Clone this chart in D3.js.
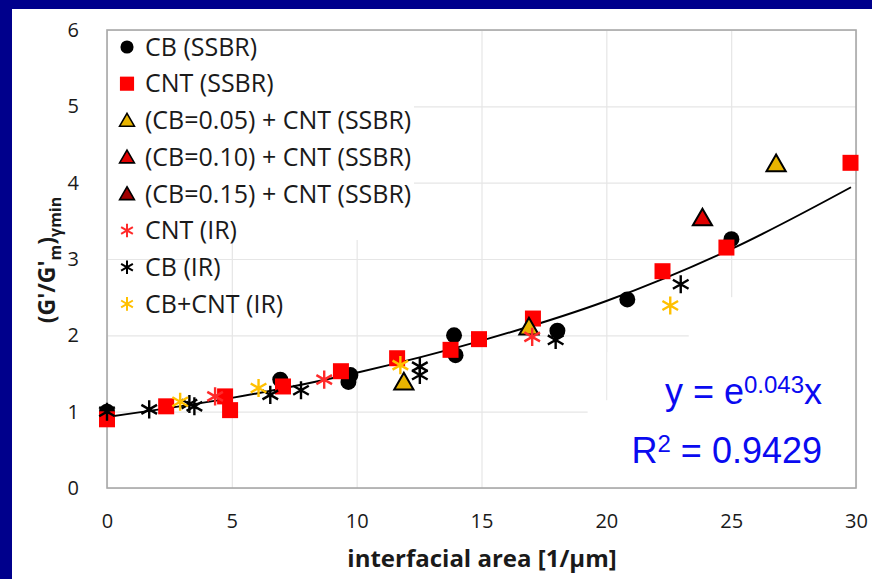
<!DOCTYPE html>
<html>
<head>
<meta charset="utf-8">
<script src="https://cdn.jsdelivr.net/npm/d3@7"></script>
<style>
  html, body { margin: 0; padding: 0; background: #00008c; }
  svg { display: block; }
</style>
</head>
<body>
<svg id="chart" width="872" height="579"></svg>
<script>
// ---- data ----
const xTicks = [0, 5, 10, 15, 20, 25, 30];
const yTicks = [0, 1, 2, 3, 4, 5, 6];

// [interfacial area, normalised modulus]
const cbSSBR   = [[0, 1.0], [6.94, 1.42], [9.75, 1.48], [9.67, 1.39], [13.9, 2.0], [13.96, 1.74], [18.04, 2.06], [20.84, 2.47], [25.01, 3.26]];
const cntSSBR  = [[0, 0.9], [2.37, 1.07], [4.73, 1.2], [4.93, 1.02], [7.05, 1.33], [9.37, 1.53], [11.62, 1.7], [13.76, 1.81], [14.9, 1.95], [17.06, 2.22], [22.25, 2.84], [24.81, 3.15], [29.78, 4.26]];
const cb05Cnt  = [[11.89, 1.39], [16.9, 2.11], [26.8, 4.25]];
const cb10Cnt  = [[23.85, 3.54]];
const cb15Cnt  = [];
const cntIR    = [[4.33, 1.2], [8.7, 1.42], [17.03, 1.98]];
const cbIR     = [[0, 1.0], [1.69, 1.03], [3.3, 1.1], [3.5, 1.07], [6.54, 1.22], [7.77, 1.28], [12.53, 1.59], [12.53, 1.48], [17.97, 1.94], [22.98, 2.67]];
const cbCntIR  = [[2.93, 1.13], [6.07, 1.31], [11.75, 1.61], [22.56, 2.39]];

// exponential trend line through the pooled data
const trendX = [0, 5, 10, 15, 20, 25, 29.8];
const trendY = [0.93, 1.18, 1.51, 1.93, 2.45, 3.13, 3.94];

const series = [
  { name: "CB (SSBR)",               data: cbSSBR,  shape: "circle",   fill: "#000000", stroke: "none" },
  { name: "CNT (SSBR)",              data: cntSSBR, shape: "square",   fill: "#ff0000", stroke: "none" },
  { name: "(CB=0.05) + CNT (SSBR)",  data: cb05Cnt, shape: "triangle", fill: "#e8b400", stroke: "#000000" },
  { name: "(CB=0.10) + CNT (SSBR)",  data: cb10Cnt, shape: "triangle", fill: "#e00000", stroke: "#000000" },
  { name: "(CB=0.15) + CNT (SSBR)",  data: cb15Cnt, shape: "triangle", fill: "#a00000", stroke: "#000000" },
  { name: "CNT (IR)",                data: cntIR,   shape: "star",     fill: "none",    stroke: "#ff2a2a" },
  { name: "CB (IR)",                 data: cbIR,    shape: "star",     fill: "none",    stroke: "#000000" },
  { name: "CB+CNT (IR)",             data: cbCntIR, shape: "star",     fill: "none",    stroke: "#ffc000" }
];

// ---- layout ----
const W = 872, H = 579;
const plot = { left: 107, right: 856, top: 30, bottom: 488 };

const svg = d3.select("#chart");
const FONT = "'Open Sans', 'Noto Sans', sans-serif";

// white panel inside the navy frame
svg.append("rect").attr("x", 12).attr("y", 9).attr("width", W - 12).attr("height", H - 9).attr("fill", "#ffffff");

const x = d3.scaleLinear().domain([0, 30]).range([plot.left, plot.right]);
const y = d3.scaleLinear().domain([0, 6]).range([plot.bottom, plot.top]);

// gridlines
const grid = svg.append("g").attr("class", "grid");
grid.append("g")
  .attr("transform", `translate(${plot.left},0)`)
  .call(d3.axisLeft(y).tickValues(yTicks).tickSize(-(plot.right - plot.left)).tickFormat(""))
  .call(g => g.select(".domain").remove())
  .call(g => g.selectAll("line").attr("stroke", "#e6e6e6").attr("stroke-width", 1.2));
grid.append("g")
  .attr("transform", `translate(0,${plot.bottom})`)
  .call(d3.axisBottom(x).tickValues(xTicks).tickSize(-(plot.bottom - plot.top)).tickFormat(""))
  .call(g => g.select(".domain").remove())
  .call(g => g.selectAll("line").attr("stroke", "#e6e6e6").attr("stroke-width", 1.2));

// white backing behind the fit equation (stepped)
const eqBack = [
  [19.25, 0, 1.15],
  [20.05, 0, 1.78],
  [23.3, 0, 2.5]
];
svg.append("g").selectAll("rect").data(eqBack).join("rect")
  .attr("x", d => x(d[0]))
  .attr("y", d => y(d[2]))
  .attr("width", d => x(30) - x(d[0]))
  .attr("height", d => y(d[1]) - y(d[2]))
  .attr("fill", "#ffffff");

// white backing behind the legend
svg.append("rect")
  .attr("x", plot.left + 1).attr("y", plot.top + 1)
  .attr("width", 306).attr("height", 209)
  .attr("fill", "#ffffff");

// plot frame
svg.append("rect")
  .attr("x", plot.left).attr("y", plot.top)
  .attr("width", plot.right - plot.left).attr("height", plot.bottom - plot.top)
  .attr("fill", "none").attr("stroke", "#a8a8a8").attr("stroke-width", 1.6);

// axes labels
svg.append("g")
  .attr("transform", `translate(${plot.left},0)`)
  .call(d3.axisLeft(y).tickValues(yTicks).tickSize(0).tickPadding(28).tickFormat(d3.format("d")))
  .call(g => g.select(".domain").remove())
  .call(g => g.selectAll("text").attr("font-family", FONT).attr("font-size", 20).attr("fill", "#1a1a1a"));

svg.append("g")
  .attr("transform", `translate(0,${plot.bottom})`)
  .call(d3.axisBottom(x).tickValues(xTicks).tickSize(0).tickPadding(26).tickFormat(d3.format("d")))
  .call(g => g.select(".domain").remove())
  .call(g => g.selectAll("text").attr("font-family", FONT).attr("font-size", 20).attr("fill", "#1a1a1a"));

// axis titles
svg.append("text")
  .attr("x", 482).attr("y", 567)
  .attr("text-anchor", "middle")
  .attr("font-family", FONT).attr("font-size", 24).attr("font-weight", "bold").attr("fill", "#1a1a1a")
  .text("interfacial area [1/\u03bcm]");

const yt = svg.append("text")
  .attr("transform", "translate(55,260) rotate(-90)")
  .attr("text-anchor", "middle")
  .attr("font-family", FONT).attr("font-size", 23).attr("font-weight", "bold").attr("fill", "#1a1a1a");
yt.append("tspan").text("(G'/G'");
yt.append("tspan").attr("font-size", 16).attr("dy", 6).text("m");
yt.append("tspan").attr("dy", -6).text(")");
yt.append("tspan").attr("font-size", 16).attr("dy", 6).text("\u03b3min");

// trend line
const trend = trendX.map((v, i) => [v, trendY[i]]);
svg.append("path")
  .datum(trend)
  .attr("fill", "none").attr("stroke", "#000000").attr("stroke-width", 1.9)
  .attr("d", d3.line().x(d => x(d[0])).y(d => y(d[1])).curve(d3.curveCatmullRom));

// markers
const symbolOf = { circle: d3.symbolCircle, square: d3.symbolSquare, triangle: d3.symbolTriangle, star: d3.symbolAsterisk };
const sizeOf = { circle: 200, square: 256, triangle: 160, star: 230 };

function styleMarker(sel, s) {
  if (s.shape === "star") {
    sel.attr("fill", "none").attr("stroke", s.stroke).attr("stroke-width", 2.4);
  } else {
    sel.attr("fill", s.fill).attr("stroke", s.stroke).attr("stroke-width", s.stroke === "none" ? 0 : 2);
  }
}

series.forEach(s => {
  const path = d3.symbol().type(symbolOf[s.shape]).size(sizeOf[s.shape])();
  const g = svg.append("g");
  g.selectAll("path").data(s.data).join("path")
    .attr("d", path)
    .attr("transform", d => `translate(${x(d[0])},${y(d[1]) + (s.shape === "triangle" ? 2 : 0)})`)
    .call(sel => styleMarker(sel, s));
});

// legend
const legend = svg.append("g").attr("transform", "translate(127,47)");
const rowH = 36.7;
series.forEach((s, i) => {
  const row = legend.append("g").attr("transform", `translate(0,${i * rowH})`);
  const lsize = { circle: 135, square: 200, triangle: 95, star: 130 }[s.shape];
  row.append("path")
    .attr("d", d3.symbol().type(symbolOf[s.shape]).size(lsize)())
    .attr("transform", s.shape === "triangle" ? "translate(0,1.5)" : null)
    .call(sel => styleMarker(sel, s))
    .attr("stroke-width", s.shape === "star" ? 2 : (s.stroke === "none" ? 0 : 1.6));
  row.append("text")
    .attr("x", 18).attr("y", 0).attr("dy", "0.35em")
    .attr("font-family", FONT).attr("font-size", 25).attr("fill", "#1a1a1a")
    .text(s.name);
});

// fit equation
const EQ = "'Liberation Sans', Arial, sans-serif";
const eq1 = svg.append("text")
  .attr("x", 822).attr("y", 404).attr("text-anchor", "end")
  .attr("font-family", EQ).attr("font-size", 36).attr("fill", "#0a0af0");
eq1.append("tspan").text("y = e");
eq1.append("tspan").attr("font-size", 24).attr("dy", -11).text("0.043");
eq1.append("tspan").attr("dy", 11).text("x");

const eq2 = svg.append("text")
  .attr("x", 822).attr("y", 463).attr("text-anchor", "end")
  .attr("font-family", EQ).attr("font-size", 36).attr("fill", "#0a0af0");
eq2.append("tspan").text("R");
eq2.append("tspan").attr("font-size", 24).attr("dy", -11).text("2");
eq2.append("tspan").attr("dy", 11).text(" = 0.9429");
</script>
</body>
</html>
